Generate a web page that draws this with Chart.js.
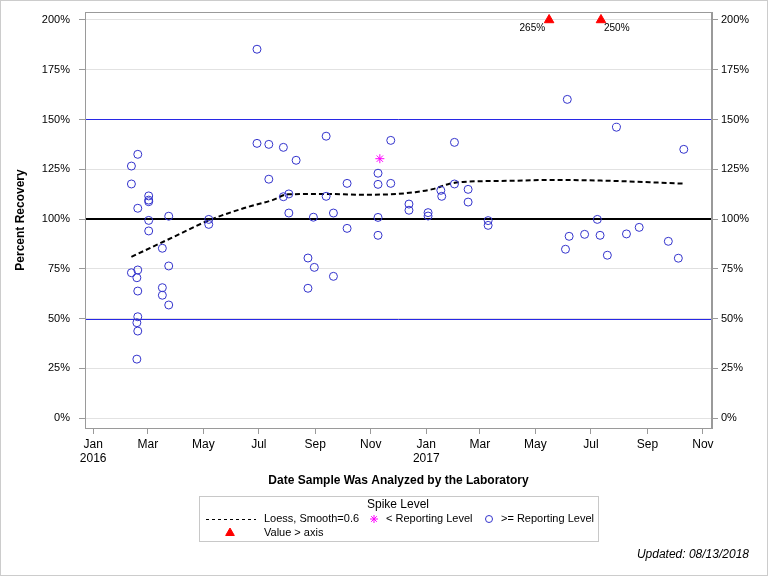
<!DOCTYPE html>
<html>
<head>
<meta charset="utf-8">
<title>Percent Recovery</title>
<script src="https://cdn.jsdelivr.net/npm/chart.js@4.4.1/dist/chart.umd.min.js"></script>
<style>
html, body { margin: 0; padding: 0; background: #fff; }
canvas { display: block; }
</style>
</head>
<body>
<canvas id="grafica" width="768" height="576"></canvas>
<script>
// >= reporting level (blue circles)
const geDates = [
	'2016-02-19', '2016-02-12', '2016-02-12', '2016-03-02', '2016-03-02', '2016-03-02',
	'2016-02-19', '2016-03-02', '2016-03-24', '2016-03-02', '2016-03-17', '2016-03-24',
	'2016-02-12', '2016-02-19', '2016-02-18', '2016-02-19', '2016-03-17', '2016-03-17',
	'2016-03-24', '2016-02-19', '2016-02-18', '2016-02-19', '2016-02-18',
	'2016-05-07', '2016-05-07',
	'2016-06-29', '2016-06-29', '2016-07-12', '2016-07-28', '2016-08-11', '2016-07-12',
	'2016-07-28', '2016-08-03', '2016-09-13', '2016-09-13', '2016-08-03', '2016-08-30',
	'2016-09-21', '2016-10-06', '2016-10-06', '2016-08-24', '2016-08-31', '2016-09-21',
	'2016-08-24',
	'2016-11-23', '2016-11-09', '2016-11-09', '2016-11-23', '2016-12-13', '2016-12-13',
	'2017-01-03', '2017-01-03', '2016-11-09', '2016-11-09',
	'2017-02-01', '2017-01-17', '2017-01-18', '2017-02-01', '2017-02-16', '2017-02-16',
	'2017-03-10', '2017-03-10',
	'2017-06-05', '2017-07-29', '2017-10-11', '2017-07-08', '2017-06-07', '2017-06-24',
	'2017-07-11', '2017-08-09', '2017-08-23', '2017-09-24', '2017-06-03', '2017-07-19',
	'2017-10-05'
];
const geValues = [
	132.5, 126.6, 117.6, 111.6, 109.5, 108.7,
	105.4, 99.3, 101.4, 94.0, 85.3, 76.4,
	73.0, 74.4, 70.5, 63.8, 65.5, 61.7,
	56.8, 50.9, 47.9, 43.7, 29.6,
	99.8, 97.3,
	185.3, 138.0, 137.5, 136.0, 129.5, 120.0,
	111.2, 112.6, 141.6, 111.4, 103.0, 100.9,
	103.0, 117.9, 95.3, 80.4, 75.7, 71.2,
	65.2,
	139.5, 123.0, 117.4, 117.9, 107.5, 104.4,
	103.2, 101.5, 100.8, 91.8,
	138.5, 114.4, 111.4, 117.6, 114.9, 108.5,
	99.2, 96.8,
	160.1, 146.1, 135.0, 99.8, 91.3, 92.3,
	91.8, 92.5, 95.8, 88.8, 84.8, 81.8,
	80.3
];

// < reporting level (magenta asterisk)
const ltDates = ['2016-11-11'];
const ltValues = [130.3];

// values above the axis (red triangles)
const overDates = ['2017-05-16', '2017-07-12'];
const overValues = [265, 250];

// loess fit, smooth = 0.6
const loessDates = [
	'2016-02-12', '2016-04-03', '2016-05-07', '2016-06-15', '2016-07-16', '2016-08-02',
	'2016-09-15', '2016-10-20', '2016-11-22', '2016-12-20', '2017-01-08', '2017-01-25',
	'2017-02-10', '2017-04-04', '2017-05-17', '2017-07-12', '2017-10-10'
];
const loessValues = [
	81.0, 92.0, 99.3, 105.5, 109.5, 112.4,
	112.6, 112.2, 112.4, 113.5, 115.0, 117.5,
	118.6, 119.2, 119.6, 119.3, 117.8
];

const xTickDates = [
	'2016-01-01', '2016-03-01', '2016-05-01', '2016-07-01', '2016-09-01', '2016-11-01',
	'2017-01-01', '2017-03-01', '2017-05-01', '2017-07-01', '2017-09-01', '2017-11-01'
];
const yTicks = [0, 25, 50, 75, 100, 125, 150, 175, 200];
const refLines = [
	{ value: 150, color: '#2828e6', width: 1 },
	{ value: 50, color: '#2828e6', width: 1 },
	{ value: 100, color: '#000000', width: 2 }
];

const months = ['Jan','Feb','Mar','Apr','May','Jun','Jul','Aug','Sep','Oct','Nov','Dec'];
const FONT = "'Liberation Sans', Arial, sans-serif";
const Y_MAX = 200;

const toTime = d => Date.parse(d + 'T00:00:00Z');
const pts = (dates, values) => dates.map((d, i) => ({ x: toTime(d), y: values[i] }));

const graph = document.querySelector('#grafica');

const data = {
	datasets: [{
		type: 'line',
		label: 'Loess, Smooth=0.6',
		data: pts(loessDates, loessValues),
		borderColor: '#000',
		borderWidth: 2,
		borderDash: [5, 3],
		pointRadius: 0,
		cubicInterpolationMode: 'monotone',
		fill: false,
		order: 3
	}, {
		type: 'scatter',
		label: '< Reporting Level',
		data: pts(ltDates, ltValues),
		pointStyle: 'star',
		pointRadius: 4.5,
		borderColor: '#ff00ff',
		borderWidth: 1,
		order: 1
	}, {
		type: 'scatter',
		label: '>= Reporting Level',
		data: pts(geDates, geValues),
		pointStyle: 'circle',
		pointRadius: 4,
		borderColor: '#3333cc',
		backgroundColor: 'rgba(0,0,0,0)',
		borderWidth: 1,
		order: 2
	}, {
		type: 'scatter',
		label: 'Value > axis',
		data: overDates.map((d, i) => ({ x: toTime(d), y: Math.min(overValues[i], Y_MAX) })),
		pointStyle: 'triangle',
		pointRadius: 5.5,
		borderColor: '#ff0000',
		backgroundColor: '#ff0000',
		borderWidth: 1,
		order: 0
	}]
};

const setTicks = (values) => (scale) => { scale.ticks = values.map(v => ({ value: v })); };

const extras = {
	id: 'extras',
	beforeDatasetsDraw(chart) {
		const { ctx, chartArea: a } = chart;
		const y = chart.scales.y;
		ctx.save();
		refLines.forEach(r => {
			const py = Math.round(y.getPixelForValue(r.value)) + (r.width % 2 ? 0.5 : 0);
			ctx.strokeStyle = r.color;
			ctx.lineWidth = r.width;
			ctx.beginPath();
			ctx.moveTo(a.left, py);
			ctx.lineTo(a.right, py);
			ctx.stroke();
		});
		ctx.restore();
	},
	afterDraw(chart) {
		const { ctx, chartArea: a } = chart;
		const x = chart.scales.x, y = chart.scales.y;
		ctx.save();
		// plot frame
		ctx.strokeStyle = '#9a9a9a';
		ctx.lineWidth = 1;
		ctx.strokeRect(Math.round(a.left) + 0.5, Math.round(a.top) + 0.5,
			Math.round(a.right - a.left) - 1, Math.round(a.bottom - a.top));
		// labels for values above the axis
		ctx.fillStyle = '#000';
		ctx.font = '10px ' + FONT;
		ctx.textBaseline = 'middle';
		const ty = y.getPixelForValue(Y_MAX) + 8;
		ctx.textAlign = 'right';
		ctx.fillText(overValues[0] + '%', x.getPixelForValue(toTime(overDates[0])) - 4, ty);
		ctx.textAlign = 'left';
		ctx.fillText(overValues[1] + '%', x.getPixelForValue(toTime(overDates[1])) + 3, ty);

		// legend
		ctx.strokeStyle = '#c8c8c8';
		ctx.strokeRect(199.5, 496.5, 399, 45);
		ctx.font = '12px ' + FONT;
		ctx.textAlign = 'center';
		ctx.fillText('Spike Level', 398, 505);
		ctx.font = '11px ' + FONT;
		ctx.textAlign = 'left';
		ctx.strokeStyle = '#000';
		ctx.setLineDash([3, 3]);
		ctx.beginPath();
		ctx.moveTo(206, 519.5);
		ctx.lineTo(256, 519.5);
		ctx.stroke();
		ctx.setLineDash([]);
		ctx.fillText('Loess, Smooth=0.6', 264, 519);
		ctx.fillStyle = 'rgba(0,0,0,0)';
		ctx.strokeStyle = '#ff00ff';
		Chart.helpers.drawPoint(ctx, { pointStyle: 'star', radius: 4, borderWidth: 1, rotation: 0 }, 374, 519);
		ctx.strokeStyle = '#3333cc';
		Chart.helpers.drawPoint(ctx, { pointStyle: 'circle', radius: 3.5, borderWidth: 1, rotation: 0 }, 489, 519);
		ctx.fillStyle = '#000';
		ctx.fillText('< Reporting Level', 386, 519);
		ctx.fillText('>= Reporting Level', 501, 519);
		ctx.fillStyle = '#ff0000';
		ctx.strokeStyle = '#ff0000';
		Chart.helpers.drawPoint(ctx, { pointStyle: 'triangle', radius: 5, borderWidth: 1, rotation: 0 }, 230, 533);
		ctx.fillStyle = '#000';
		ctx.fillText('Value > axis', 264, 533);

		// footnote
		ctx.font = 'italic 12px ' + FONT;
		ctx.textAlign = 'right';
		ctx.fillText('Updated: 08/13/2018', 749, 555);

		// outer border
		ctx.strokeStyle = '#cccccc';
		ctx.strokeRect(0.5, 0.5, chart.width - 1, chart.height - 1);
		ctx.restore();
	}
};

const tickFont = { family: FONT, size: 11 };
const titleFont = { family: FONT, size: 12, weight: 'bold' };

const yScale = (pos) => ({
	position: pos,
	min: -5,
	max: 204,
	afterBuildTicks: setTicks(yTicks),
	afterFit: (s) => {
		s.width = pos === 'left' ? 85 : 56;
		s.paddingTop = 0;
		s.paddingBottom = 0;
	},
	grid: {
		display: true,
		drawOnChartArea: pos === 'left',
		color: '#e2e2e2',
		tickColor: '#9a9a9a',
		tickLength: 6
	},
	border: { display: true, color: '#9a9a9a' },
	ticks: {
		color: '#000',
		font: tickFont,
		padding: pos === 'left' ? 9 : 3,
		callback: v => v + '%'
	},
	title: {
		display: pos === 'left',
		text: 'Percent Recovery',
		color: '#000',
		font: titleFont,
		padding: { top: 13, bottom: 0 }
	}
});

const config = {
	data: data,
	options: {
		responsive: false,
		animation: false,
		layout: { padding: { top: 12, left: 0, right: 0, bottom: 88 } },
		plugins: {
			legend: { display: false },
			tooltip: { enabled: false }
		},
		scales: {
			x: {
				type: 'linear',
				position: 'bottom',
				min: toTime('2015-12-23'),
				max: toTime('2017-11-11'),
				afterBuildTicks: setTicks(xTickDates.map(toTime)),
				afterFit: (s) => { s.height = 60; },
				grid: {
					drawOnChartArea: false,
					tickColor: '#9a9a9a',
					tickLength: 6
				},
				border: { display: true, color: '#9a9a9a' },
				ticks: {
					color: '#000',
					font: { family: FONT, size: 12 },
					padding: 3,
					maxRotation: 0,
					autoSkip: false,
					callback: (v) => {
						const d = new Date(v);
						const m = months[d.getUTCMonth()];
						return d.getUTCMonth() === 0 ? [m, String(d.getUTCFullYear())] : m;
					}
				},
				title: {
					display: true,
					text: 'Date Sample Was Analyzed by the Laboratory',
					color: '#000',
					font: titleFont,
					padding: { top: 6, bottom: 0 }
				}
			},
			y: yScale('left'),
			y2: yScale('right')
		}
	},
	plugins: [extras]
};

new Chart(graph, config);
</script>
</body>
</html>
